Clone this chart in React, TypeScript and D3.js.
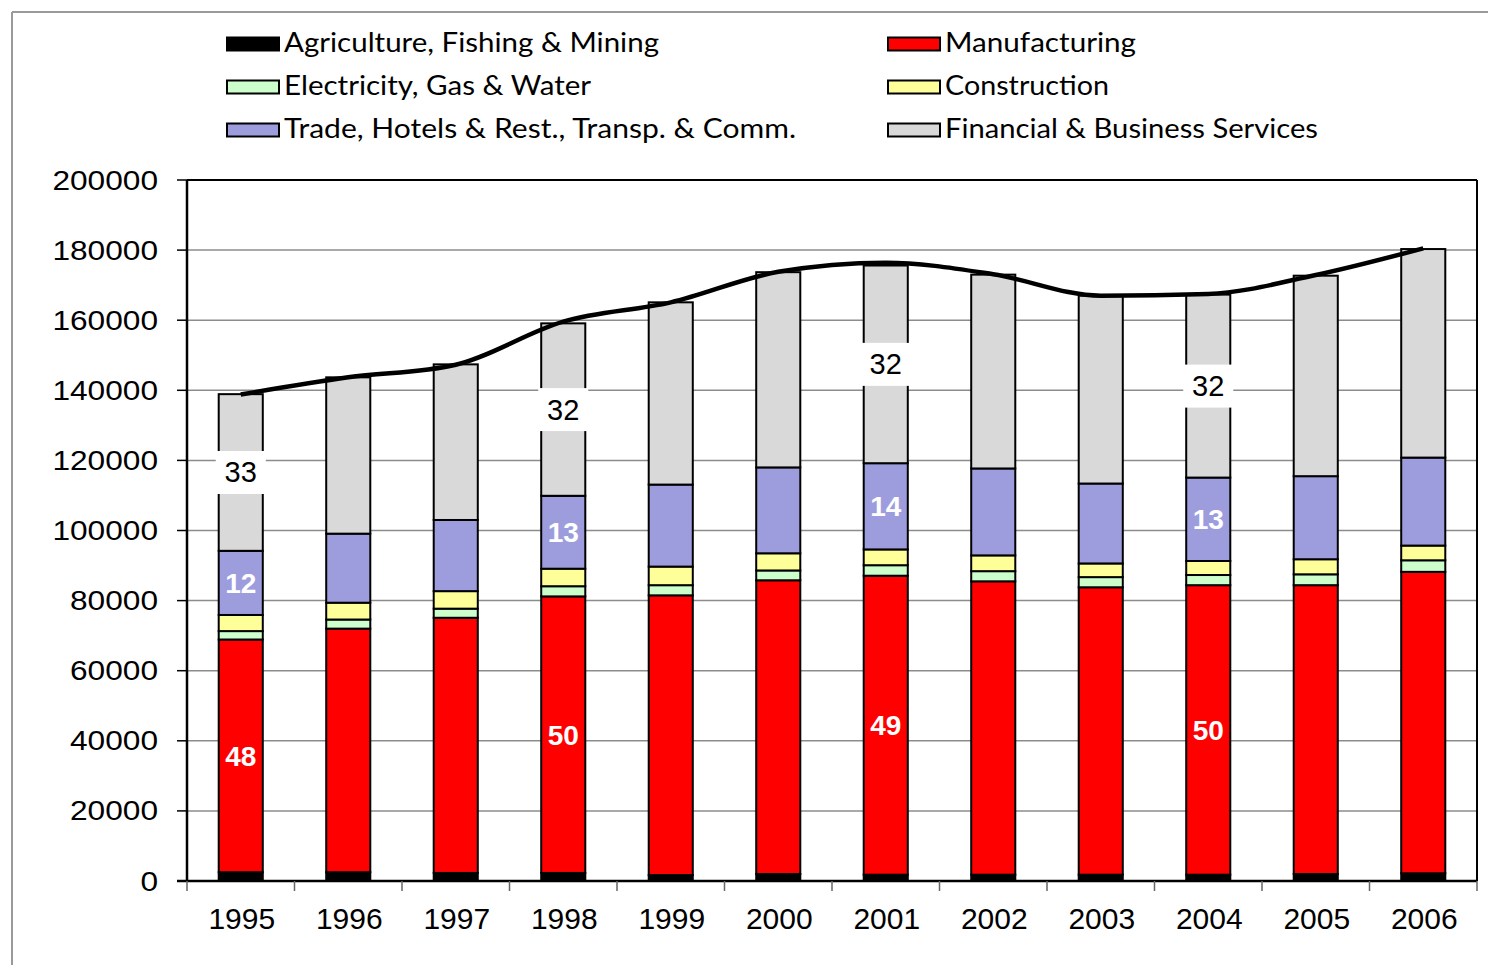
import React, { useEffect } from "react";
import * as d3 from "d3";

const years = ["1995", "1996", "1997", "1998", "1999", "2000", "2001", "2002", "2003", "2004", "2005", "2006"];
const agriculture = [2500, 2500, 2300, 2300, 1700, 2000, 1800, 1800, 1800, 1800, 2000, 2200];
const manufacturing = [66400, 69500, 72800, 78900, 79800, 83800, 85300, 83700, 82000, 82600, 82400, 86000];
const electricity = [2400, 2600, 2600, 2900, 2900, 2800, 3000, 2900, 2900, 2900, 3100, 3300];
const construction = [4600, 4800, 5000, 5000, 5300, 4900, 4500, 4500, 3900, 4000, 4300, 4200];
const trade = [18300, 19700, 20300, 20800, 23400, 24500, 24600, 24800, 22800, 23800, 23700, 25100];
const financial = [44700, 44600, 44400, 49200, 52000, 55700, 56400, 55300, 53600, 52200, 57200, 59500];
const totalGdp = [138800, 143700, 147300, 159600, 165100, 173800, 176400, 173100, 167000, 167500, 172900, 180500];

const seriesNames = [
  "Agriculture, Fishing & Mining",
  "Manufacturing",
  "Electricity, Gas & Water",
  "Construction",
  "Trade, Hotels & Rest., Transp. & Comm.",
  "Financial & Business Services",
];
const seriesColors = ["#000000", "#FF0000", "#CCFFCC", "#FFFF99", "#9D9DDE", "#D9D9D9"];
const seriesValues = [agriculture, manufacturing, electricity, construction, trade, financial];

const labelYears = ["1995", "1998", "2001", "2004"];
const financialPct = [33, 32, 32, 32];
const tradePct = [12, 13, 14, 13];
const manufacturingPct = [48, 50, 49, 50];

const yTicks = [0, 20000, 40000, 60000, 80000, 100000, 120000, 140000, 160000, 180000, 200000];

const legendOrder = [0, 1, 2, 3, 4, 5];
const legendTextWidths = [375, 191, 307, 164, 512, 373];

export default function App() {
  useEffect(() => {
    document.body.style.margin = "0";
  }, []);

  const W = 1488;
  const H = 965;
  const left = 187;
  const right = 1477;
  const top = 180;
  const bottom = 881;

  const x = d3.scaleBand<string>().domain(years).range([left, right]).paddingInner(0.59).paddingOuter(0.295);
  const step = x.step();
  const y = d3.scaleLinear().domain([0, 200000]).range([bottom, top]);

  const rows = years.map((yr, i) => {
    const r: any = { year: yr };
    seriesNames.forEach((n, k) => (r[n] = seriesValues[k][i]));
    return r;
  });
  const stacked = d3.stack<any>().keys(seriesNames)(rows);

  const line = d3
    .line<number>()
    .x((_, i) => (x(years[i]) as number) + x.bandwidth() / 2)
    .y((d) => y(d))
    .curve(d3.curveMonotoneX);

  const sansFont = "'Liberation Sans', Arial, sans-serif";
  const legendFont = "Lato, 'Open Sans', sans-serif";

  const segMid = (k: number, yr: string) => {
    const i = years.indexOf(yr);
    const s = stacked[k][i];
    return y((s[0] + s[1]) / 2);
  };

  return (
    <svg width={W} height={H} style={{ display: "block" }} xmlns="http://www.w3.org/2000/svg">
      <rect x={0} y={0} width={W} height={H} fill="#ffffff" />
      <line x1={12} y1={12} x2={W} y2={12} stroke="#9a9a9a" strokeWidth={2} />
      <line x1={12} y1={12} x2={12} y2={H} stroke="#9a9a9a" strokeWidth={2} />

      {legendOrder.map((k, j) => {
        const col = j % 2;
        const row = Math.floor(j / 2);
        const bx = col === 0 ? 227 : 888;
        const by = 37.5 + row * 43;
        return (
          <g key={"lg" + k}>
            <rect x={bx} y={by} width={52} height={13} fill={seriesColors[k]} stroke="#000" strokeWidth={2} />
            <text
              x={bx + 57}
              y={by + 14}
              fontFamily={legendFont}
              fontSize={27}
              fill="#000"
              textLength={legendTextWidths[k]}
              lengthAdjust="spacingAndGlyphs"
            >
              {seriesNames[k]}
            </text>
          </g>
        );
      })}

      {yTicks.map((t) => (
        <line key={"g" + t} x1={left} x2={right} y1={y(t)} y2={y(t)} stroke="#8c8c8c" strokeWidth={1.5} />
      ))}

      {stacked.map((s, k) => (
        <g key={"s" + k}>
          {s.map((d, i) => (
            <rect
              key={"b" + k + i}
              x={x(years[i]) as number}
              y={y(d[1])}
              width={x.bandwidth()}
              height={y(d[0]) - y(d[1])}
              fill={seriesColors[k]}
              stroke="#000"
              strokeWidth={2}
            />
          ))}
        </g>
      ))}

      <line x1={right} x2={right} y1={top} y2={bottom} stroke="#000" strokeWidth={2} />
      <line x1={left} x2={right} y1={top} y2={top} stroke="#000" strokeWidth={2} />
      <line x1={left} x2={left} y1={top} y2={bottom} stroke="#000" strokeWidth={2.5} />
      <line x1={left - 10} x2={right} y1={bottom} y2={bottom} stroke="#000" strokeWidth={2.5} />
      {yTicks.map((t) => (
        <line key={"yt" + t} x1={left - 10} x2={left} y1={y(t)} y2={y(t)} stroke="#000" strokeWidth={1.5} />
      ))}
      {years.map((yr, i) => (
        <line
          key={"xt" + yr}
          x1={left + i * step}
          x2={left + i * step}
          y1={bottom}
          y2={bottom + 10}
          stroke="#666"
          strokeWidth={1.5}
        />
      ))}
      <line x1={right} x2={right} y1={bottom} y2={bottom + 10} stroke="#666" strokeWidth={1.5} />

      {yTicks.map((t) => {
        const s = String(t);
        return (
          <text
            key={"yl" + t}
            x={158}
            y={y(t) + 9.5}
            textAnchor="end"
            fontFamily={sansFont}
            fontSize={28}
            fill="#000"
            textLength={s.length * 17.6}
            lengthAdjust="spacingAndGlyphs"
          >
            {s}
          </text>
        );
      })}

      {years.map((yr) => (
        <text
          key={"xl" + yr}
          x={(x(yr) as number) + x.bandwidth() / 2 + 1}
          y={929}
          textAnchor="middle"
          fontFamily={sansFont}
          fontSize={30}
          fill="#000"
        >
          {yr}
        </text>
      ))}

      <path d={line(totalGdp) || ""} fill="none" stroke="#000" strokeWidth={4.5} strokeLinejoin="round" />

      {labelYears.map((yr, j) => {
        const cx = (x(yr) as number) + x.bandwidth() / 2;
        const fy = segMid(5, yr);
        const ty = segMid(4, yr);
        const my = segMid(1, yr);
        return (
          <g key={"dl" + yr}>
            <rect x={cx - 25} y={fy - 21.5} width={50} height={43} fill="#ffffff" />
            <text x={cx} y={fy + 10} textAnchor="middle" fontFamily={sansFont} fontSize={29} fill="#000">
              {financialPct[j]}
            </text>
            <text
              x={cx}
              y={ty + 10}
              textAnchor="middle"
              fontFamily={sansFont}
              fontSize={28}
              fontWeight="bold"
              fill="#ffffff"
            >
              {tradePct[j]}
            </text>
            <text
              x={cx}
              y={my + 10}
              textAnchor="middle"
              fontFamily={sansFont}
              fontSize={28}
              fontWeight="bold"
              fill="#ffffff"
            >
              {manufacturingPct[j]}
            </text>
          </g>
        );
      })}
    </svg>
  );
}
